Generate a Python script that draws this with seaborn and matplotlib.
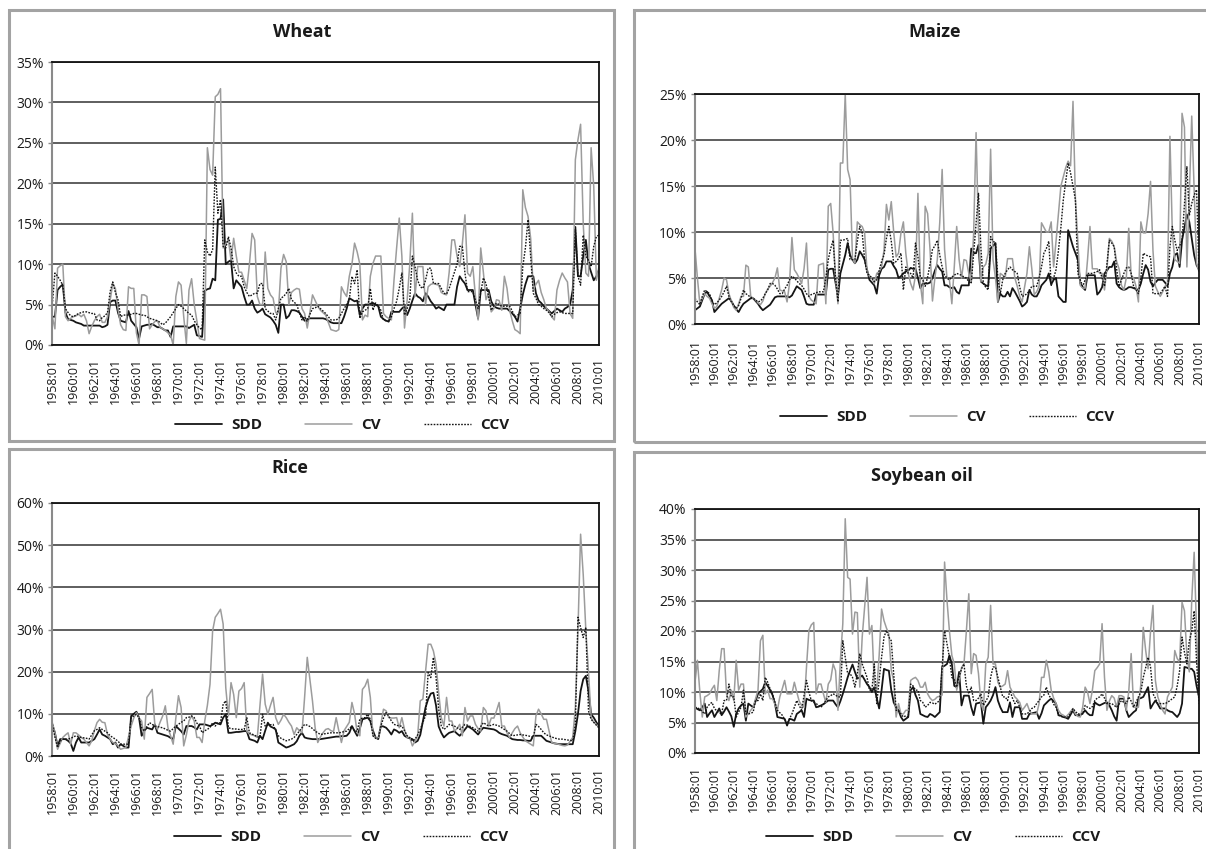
import numpy as np
import matplotlib
matplotlib.use("Agg")
import matplotlib.pyplot as plt
from matplotlib.patches import Rectangle
from matplotlib.ticker import PercentFormatter, MultipleLocator
import seaborn as sns

sns.set_theme(style="white")
plt.rcParams["font.family"] = ["Open Sans", "DejaVu Sans"]

W, H = 1206, 849

# quarterly observations 1958:01 .. 2010:01, ticks every two years
TICK_LABELS = [f"{y}:01" for y in range(1958, 2011, 2)]
SERIES_NAMES = ["SDD", "CV", "CCV"]

# ---- Wheat (%)
WHEAT_SDD = [
    3.5, 3.5, 6.8, 7.2, 7.5, 4.0, 3.2, 3.1, 3.0, 2.8, 2.7, 2.6, 2.4, 2.4, 2.4, 2.4,
    2.4, 2.4, 2.4, 2.2, 2.3, 2.5, 5.3, 5.5, 5.5, 4.0, 3.0, 2.9, 2.8, 4.2, 3.0, 2.6,
    2.2, 0.8, 2.3, 2.4, 2.5, 2.5, 2.6, 2.4, 2.2, 2.2, 2.0, 1.8, 1.8, 1.0, 2.3, 2.3,
    2.3, 2.3, 2.3, 2.3, 2.1, 2.3, 2.5, 1.2, 1.1, 1.0, 6.7, 6.9, 7.0, 8.2, 8.0, 15.5,
    15.6, 18.0, 10.0, 10.3, 10.5, 7.0, 8.0, 7.6, 7.2, 6.0, 5.0, 5.0, 5.5, 4.5, 4.0, 4.2,
    4.5, 3.8, 3.6, 3.4, 3.0, 2.5, 1.5, 5.0, 5.0, 3.3, 3.6, 4.3, 4.3, 4.2, 4.0, 3.5,
    3.0, 3.2, 3.3, 3.3, 3.3, 3.3, 3.3, 3.3, 3.2, 3.0, 2.8, 2.7, 2.7, 2.7, 2.7, 3.5,
    4.5, 5.8, 5.6, 5.4, 5.5, 3.7, 4.5, 5.0, 5.0, 5.1, 5.2, 5.0, 4.8, 3.5, 3.2, 3.0,
    2.9, 4.1, 4.1, 4.1, 4.1, 4.5, 4.8, 3.7, 4.5, 5.5, 6.4, 6.0, 5.8, 5.4, 6.4, 6.0,
    5.4, 5.0, 4.5, 4.7, 4.5, 4.3, 5.0, 5.0, 5.0, 5.0, 7.2, 8.5, 8.0, 7.6, 6.8, 6.8,
    6.8, 5.0, 3.3, 6.8, 6.8, 6.8, 6.8, 5.4, 4.8, 4.6, 4.5, 4.5, 4.5, 4.5, 4.2, 3.9,
    3.5, 2.9, 4.5, 6.2, 7.5, 8.5, 8.5, 8.5, 6.4, 5.5, 5.2, 4.8, 4.5, 4.2, 3.9, 4.2,
    4.5, 4.3, 4.1, 4.5, 4.7, 5.0, 6.8, 14.6, 8.5, 8.5, 11.0, 13.0, 10.0, 9.0, 8.0, 8.5,
    9.3,
]
WHEAT_CV = [
    3.5, 2.0, 9.5, 9.8, 10.0, 3.5, 3.0, 3.3, 3.5, 3.6, 3.8, 3.5, 3.8, 3.0, 1.4, 2.3,
    3.0, 3.5, 3.8, 2.8, 2.8, 3.5, 5.5, 7.6, 7.0, 4.5, 2.5, 1.9, 1.8, 7.2, 7.0, 7.0,
    1.5, 0.0, 6.2, 6.2, 6.0, 2.0, 2.5, 2.9, 3.0, 2.2, 2.0, 1.8, 1.5, 1.2, 0.0, 6.0,
    7.8, 7.4, 3.5, 0.2, 6.8, 8.2, 5.0, 3.0, 0.8, 0.7, 0.6, 24.4, 21.7, 21.0, 30.7, 31.0,
    31.7, 12.0, 12.5, 13.0, 10.5, 13.2, 11.0, 9.0, 9.0, 8.0, 7.0, 10.0, 13.8, 13.0, 6.0, 5.0,
    5.0, 11.5, 7.0, 6.2, 5.8, 4.0, 4.0, 9.5, 11.2, 10.3, 5.0, 6.5, 6.8, 7.0, 6.9, 4.5,
    3.9, 2.1, 4.0, 6.2, 5.5, 4.8, 4.3, 4.0, 3.7, 2.8, 1.9, 1.8, 1.7, 1.9, 7.2, 6.5,
    6.0, 8.5, 10.0, 12.6, 11.5, 10.0, 3.1, 3.7, 3.5, 8.5, 10.1, 11.0, 11.0, 11.0, 3.9, 3.5,
    3.3, 3.1, 8.0, 12.0, 15.7, 11.0, 2.1, 5.5, 10.0, 16.3, 6.0, 9.7, 9.7, 9.7, 5.0, 7.2,
    7.5, 7.6, 7.5, 7.4, 6.5, 6.3, 6.2, 9.0, 13.0, 13.0, 11.0, 9.7, 12.5, 16.1, 8.9, 8.5,
    9.7, 6.0, 3.1, 12.0, 9.0, 5.6, 6.4, 4.1, 4.5, 5.6, 5.5, 4.3, 8.5, 7.0, 4.3, 3.0,
    1.9, 1.7, 1.4, 19.2, 17.0, 15.9, 13.2, 6.8, 7.5, 8.0, 6.5, 5.6, 4.5, 4.1, 3.5, 3.1,
    6.8, 8.0, 8.9, 8.3, 7.8, 3.9, 3.3, 22.9, 25.4, 27.3, 15.0, 8.9, 8.5, 24.4, 19.6, 8.0,
    9.7,
]
WHEAT_CCV = [
    5.0, 8.9, 8.5, 8.0, 7.4, 4.5, 4.0, 3.6, 3.5, 3.7, 3.9, 4.0, 4.1, 4.1, 4.0, 3.9,
    3.9, 3.1, 3.0, 3.4, 3.6, 4.0, 6.6, 7.8, 6.5, 5.6, 3.5, 3.7, 3.7, 3.7, 3.8, 3.9,
    3.9, 3.8, 3.7, 3.7, 3.5, 3.3, 3.2, 3.1, 3.0, 2.8, 2.5, 2.7, 3.1, 3.5, 4.0, 4.5,
    5.0, 4.8, 4.5, 4.2, 3.9, 3.7, 3.0, 2.5, 2.1, 1.9, 13.0, 11.5, 11.0, 11.8, 22.0, 16.3,
    18.0, 12.2, 12.0, 13.4, 12.0, 9.7, 8.9, 8.5, 8.5, 7.2, 6.5, 6.0, 6.2, 6.4, 6.4, 7.6,
    7.6, 4.5, 4.2, 3.9, 3.9, 3.1, 4.5, 5.8, 6.0, 6.4, 7.0, 5.6, 5.3, 5.0, 4.0, 3.1,
    3.5, 2.9, 3.8, 4.5, 4.6, 4.8, 4.5, 4.2, 3.9, 3.5, 3.1, 3.1, 3.1, 3.3, 3.9, 4.5,
    5.0, 5.6, 8.5, 7.6, 9.3, 3.3, 4.1, 4.3, 4.5, 7.0, 4.3, 5.2, 4.8, 4.3, 3.1, 3.0,
    2.9, 3.5, 4.5, 5.4, 7.0, 8.9, 3.7, 4.5, 5.6, 11.0, 9.7, 8.0, 7.2, 7.0, 8.0, 9.5,
    9.5, 7.6, 7.6, 7.6, 7.0, 6.4, 6.3, 7.0, 8.0, 9.0, 10.0, 12.2, 12.2, 8.9, 6.6, 6.6,
    6.6, 5.5, 4.5, 6.5, 8.3, 7.6, 6.0, 4.3, 4.8, 5.2, 5.0, 4.8, 4.8, 4.8, 4.8, 4.2,
    3.5, 3.7, 3.9, 9.7, 12.0, 15.5, 11.0, 6.4, 5.8, 5.0, 4.8, 4.5, 4.3, 4.0, 3.5, 3.8,
    4.0, 4.1, 4.0, 3.9, 3.9, 3.9, 3.9, 14.3, 8.5, 7.4, 13.6, 11.0, 10.5, 9.7, 12.2, 13.4,
    13.6,
]

# ---- Maize (%)
MAIZE_SDD = [
    1.5, 1.7, 1.9, 2.6, 3.3, 3.5, 3.0, 2.6, 1.3, 1.6, 1.9, 2.2, 2.4, 2.6, 2.8, 2.5,
    2.0, 1.6, 1.3, 1.8, 2.2, 2.4, 2.6, 2.8, 2.8, 2.5, 2.2, 1.8, 1.5, 1.7, 1.9, 2.1,
    2.5, 2.9, 3.0, 3.0, 3.0, 3.0, 3.0, 2.9, 3.1, 3.6, 4.1, 3.9, 3.7, 3.0, 2.2, 2.1,
    2.1, 2.1, 3.2, 3.2, 3.2, 3.2, 3.2, 5.9, 6.0, 6.0, 4.5, 3.0, 5.5, 6.5, 7.5, 8.8,
    7.5, 7.0, 6.6, 7.0, 7.9, 7.5, 7.0, 5.9, 4.8, 4.5, 4.2, 3.3, 5.3, 6.0, 6.2, 6.8,
    6.8, 6.8, 6.3, 5.9, 5.0, 5.2, 5.5, 5.7, 5.8, 6.1, 6.0, 6.0, 5.0, 3.9, 4.4, 4.4,
    4.4, 4.5, 5.0, 5.8, 6.4, 6.0, 5.7, 4.2, 4.2, 4.0, 3.9, 4.0, 3.5, 3.3, 4.2, 4.2,
    4.2, 4.2, 8.2, 7.7, 7.7, 8.6, 4.6, 4.4, 4.2, 4.1, 8.2, 8.5, 8.8, 2.4, 3.3, 3.0,
    3.0, 3.5, 3.0, 3.9, 3.5, 3.0, 2.5, 1.9, 2.1, 2.4, 3.7, 3.2, 3.0, 3.0, 3.5, 4.2,
    4.5, 4.8, 5.5, 4.3, 4.8, 5.0, 3.0, 2.7, 2.4, 2.4, 10.2, 9.3, 8.4, 7.7, 7.0, 4.4,
    4.0, 3.7, 5.3, 5.3, 5.3, 5.3, 3.2, 3.5, 4.0, 5.5, 5.8, 6.2, 6.2, 6.8, 4.4, 4.0,
    3.8, 3.7, 3.8, 4.0, 4.0, 3.9, 3.8, 3.7, 4.4, 5.5, 6.4, 5.9, 4.6, 4.1, 4.5, 4.8,
    4.8, 4.8, 4.5, 4.1, 5.5, 6.2, 7.5, 7.7, 6.2, 9.1, 10.5, 11.9, 11.1, 9.3, 7.5, 6.4,
    5.9,
]
MAIZE_CV = [
    8.2, 5.0, 2.2, 2.8, 3.3, 3.0, 2.8, 2.2, 1.7, 1.9, 2.8, 3.7, 5.0, 4.8, 3.3, 2.5,
    1.8, 1.5, 2.2, 3.0, 3.0, 6.4, 6.2, 3.0, 2.8, 2.6, 2.3, 2.1, 2.5, 3.3, 3.8, 4.1,
    4.5, 5.0, 6.1, 3.7, 3.6, 3.5, 2.4, 4.4, 9.4, 5.9, 5.5, 5.0, 4.4, 6.0, 8.8, 3.0,
    2.6, 2.4, 2.2, 6.4, 6.5, 6.6, 2.2, 12.8, 13.1, 9.9, 5.0, 2.2, 17.5, 17.5, 25.0, 16.8,
    15.7, 7.1, 6.6, 11.1, 10.8, 10.6, 9.9, 5.7, 5.2, 5.0, 4.4, 5.5, 5.7, 6.2, 8.0, 13.0,
    11.3, 13.3, 10.0, 7.3, 7.7, 9.9, 11.1, 7.7, 5.5, 4.4, 3.7, 5.3, 14.2, 4.4, 2.2, 12.8,
    12.0, 8.1, 2.5, 5.0, 7.0, 11.0, 16.8, 8.1, 5.0, 4.8, 2.2, 6.2, 10.6, 7.0, 5.0, 7.0,
    6.9, 5.5, 4.6, 9.9, 20.8, 9.9, 4.6, 6.2, 6.5, 7.7, 19.0, 7.0, 5.0, 2.4, 5.5, 5.3,
    5.0, 7.1, 7.1, 7.1, 5.0, 4.1, 3.0, 2.4, 4.0, 5.5, 8.4, 6.0, 3.2, 3.5, 4.1, 11.0,
    10.5, 10.0, 10.0, 11.1, 6.2, 9.0, 12.0, 15.0, 16.0, 17.0, 17.7, 17.2, 24.2, 13.5, 9.0, 4.2,
    3.9, 3.9, 7.0, 10.6, 6.0, 6.0, 6.0, 5.5, 5.5, 3.7, 6.0, 9.3, 9.0, 8.4, 6.8, 6.0,
    4.2, 3.7, 5.0, 10.4, 5.3, 5.0, 4.1, 2.4, 11.1, 9.9, 9.9, 12.0, 15.5, 8.0, 4.1, 3.5,
    3.0, 3.5, 4.1, 4.5, 20.4, 9.9, 7.0, 6.8, 6.6, 22.9, 21.4, 6.2, 14.0, 22.6, 14.6, 6.6,
    5.7,
]
MAIZE_CCV = [
    2.8, 2.4, 2.1, 3.0, 3.7, 3.5, 3.3, 2.5, 2.1, 2.3, 2.6, 3.0, 3.5, 4.1, 3.0, 2.4,
    2.0, 1.7, 2.0, 2.8, 3.7, 3.3, 3.1, 2.9, 2.8, 2.6, 2.4, 2.5, 2.8, 3.3, 3.7, 4.4,
    4.4, 4.2, 3.8, 3.3, 3.3, 3.8, 4.2, 4.8, 5.2, 5.0, 4.7, 4.4, 4.2, 3.8, 3.3, 3.0,
    3.2, 3.3, 3.4, 3.5, 3.5, 3.5, 5.0, 7.0, 8.2, 9.1, 5.0, 2.4, 9.1, 9.1, 9.2, 9.3,
    7.0, 7.0, 7.0, 9.0, 10.6, 9.9, 7.0, 5.5, 5.3, 5.0, 4.6, 4.8, 5.8, 6.8, 7.5, 9.3,
    10.6, 9.0, 6.6, 6.8, 7.1, 7.7, 3.7, 6.2, 5.5, 5.5, 5.0, 8.8, 7.3, 5.1, 4.8, 4.1,
    5.1, 6.5, 8.1, 8.5, 9.1, 7.5, 6.2, 5.3, 5.0, 4.8, 5.1, 5.3, 5.5, 5.4, 5.3, 5.1,
    5.0, 4.6, 4.4, 7.7, 11.0, 14.2, 8.2, 4.4, 4.0, 3.7, 9.5, 9.0, 8.8, 5.0, 3.3, 4.8,
    5.5, 5.9, 6.2, 5.9, 5.7, 5.5, 4.0, 3.0, 3.1, 3.3, 3.6, 4.1, 4.1, 4.1, 5.0, 6.2,
    7.7, 8.2, 9.0, 4.2, 5.0, 5.9, 8.0, 10.5, 13.5, 15.5, 17.5, 16.4, 15.0, 13.5, 5.5, 4.8,
    4.1, 4.8, 5.5, 5.5, 5.5, 5.6, 5.7, 5.9, 5.0, 4.1, 6.5, 9.1, 8.8, 8.4, 6.0, 4.1,
    4.8, 5.5, 6.1, 6.2, 5.5, 4.1, 3.7, 3.3, 5.0, 7.7, 7.5, 7.4, 7.3, 3.3, 3.3, 3.3,
    3.3, 3.7, 4.1, 3.0, 8.4, 10.6, 9.1, 8.0, 8.5, 9.1, 13.0, 17.1, 11.8, 13.1, 14.0, 14.6,
    5.7,
]

# ---- Rice (%)
RICE_SDD = [
    7.5, 5.5, 2.4, 4.0, 4.0, 4.0, 3.6, 3.0, 1.2, 3.2, 4.4, 3.2, 3.2, 3.2, 3.2, 3.6,
    4.0, 5.1, 6.3, 5.1, 4.8, 4.4, 4.0, 2.8, 3.2, 2.0, 2.8, 2.4, 2.0, 2.0, 9.5, 10.0,
    10.5, 9.1, 4.8, 6.0, 6.7, 6.5, 6.3, 7.5, 5.5, 5.3, 5.1, 4.9, 4.7, 4.3, 4.0, 7.1,
    6.5, 5.9, 5.1, 7.1, 7.1, 7.1, 6.8, 6.3, 7.5, 7.5, 7.5, 7.3, 7.1, 7.4, 7.9, 7.7,
    7.5, 9.1, 9.9, 5.5, 5.5, 5.6, 5.7, 5.7, 5.8, 5.9, 5.9, 4.0, 3.8, 3.6, 3.2, 4.8,
    4.0, 6.0, 7.9, 7.0, 6.7, 6.3, 3.2, 2.8, 2.4, 2.0, 2.2, 2.5, 2.8, 3.5, 4.8, 5.5,
    4.4, 4.2, 4.1, 4.0, 4.0, 4.0, 4.0, 4.1, 4.2, 4.3, 4.4, 4.5, 4.6, 4.6, 4.7, 4.7,
    4.8, 5.5, 7.1, 5.9, 4.8, 6.5, 8.7, 8.9, 9.1, 8.3, 6.0, 4.4, 4.0, 7.1, 7.0, 6.7,
    6.0, 5.1, 6.3, 6.0, 5.5, 5.9, 4.8, 4.4, 4.2, 4.0, 3.2, 3.6, 5.0, 8.3, 11.5, 13.5,
    14.8, 15.0, 12.0, 7.0, 5.5, 4.4, 5.0, 5.5, 5.7, 5.9, 5.3, 4.8, 5.5, 6.3, 7.1, 6.7,
    6.3, 5.7, 5.1, 6.0, 6.7, 6.6, 6.5, 6.4, 6.3, 6.0, 5.5, 5.2, 5.0, 4.8, 4.4, 4.0,
    3.9, 3.8, 3.8, 3.7, 3.7, 3.6, 3.6, 4.8, 4.8, 4.8, 4.8, 4.2, 3.6, 3.4, 3.2, 3.0,
    2.9, 2.8, 2.8, 2.8, 2.8, 2.8, 2.8, 5.9, 10.0, 15.4, 18.2, 19.0, 15.4, 9.9, 9.1, 8.0,
    7.1,
]
RICE_CV = [
    7.9, 5.5, 1.6, 3.0, 4.4, 5.0, 5.5, 2.8, 5.5, 5.5, 5.0, 4.4, 4.0, 3.2, 2.4, 3.6,
    6.0, 7.9, 8.7, 8.0, 7.9, 5.1, 4.0, 3.2, 3.0, 2.4, 1.6, 1.8, 2.0, 4.5, 7.1, 9.0,
    10.3, 9.0, 8.3, 4.0, 13.9, 14.8, 15.8, 7.5, 6.3, 8.0, 9.5, 11.9, 6.7, 4.8, 2.8, 9.0,
    14.3, 11.5, 2.4, 5.0, 8.3, 9.5, 8.3, 4.4, 4.4, 3.2, 8.3, 12.0, 17.0, 29.7, 32.9, 33.8,
    34.8, 31.3, 16.2, 9.5, 17.4, 14.6, 9.1, 15.4, 16.0, 17.4, 5.9, 5.2, 5.0, 4.8, 4.4, 12.0,
    19.4, 12.3, 9.9, 12.0, 13.9, 9.1, 7.5, 8.5, 9.9, 9.1, 8.0, 7.1, 5.1, 6.7, 6.0, 5.5,
    14.0, 23.4, 18.2, 13.0, 6.7, 3.2, 4.5, 5.5, 6.3, 6.5, 6.0, 5.8, 9.1, 6.0, 3.2, 6.0,
    7.0, 8.0, 12.7, 10.0, 5.5, 4.8, 15.8, 16.6, 18.2, 13.9, 4.8, 4.4, 4.0, 7.5, 11.1, 10.7,
    9.1, 9.0, 9.0, 9.1, 6.7, 9.1, 6.3, 4.4, 4.4, 2.4, 3.5, 4.8, 13.1, 13.5, 20.0, 26.5,
    26.5, 24.9, 21.8, 15.0, 9.1, 7.1, 13.9, 8.3, 8.3, 5.9, 6.5, 7.5, 4.8, 11.5, 8.3, 9.5,
    9.5, 7.5, 6.5, 5.9, 11.5, 10.7, 7.1, 9.0, 9.0, 10.7, 12.7, 7.1, 7.1, 5.5, 4.4, 5.5,
    6.5, 7.1, 5.5, 4.5, 3.6, 3.2, 2.8, 2.4, 9.5, 11.1, 10.0, 8.7, 8.7, 6.0, 3.2, 3.0,
    2.9, 2.7, 2.5, 2.4, 2.6, 3.5, 4.4, 11.5, 30.0, 52.6, 43.0, 29.7, 20.0, 9.1, 8.0, 7.5,
    6.7,
]
RICE_CCV = [
    7.5, 4.5, 2.0, 3.5, 4.0, 4.0, 4.0, 4.2, 4.5, 4.8, 4.6, 4.4, 4.3, 4.2, 4.0, 5.0,
    6.0, 6.3, 6.7, 6.3, 5.9, 5.5, 4.8, 4.4, 4.0, 3.5, 2.8, 2.8, 2.8, 2.8, 9.1, 9.5,
    9.9, 9.1, 6.7, 5.9, 7.0, 7.9, 7.5, 7.1, 7.0, 6.8, 6.7, 6.4, 6.1, 5.9, 6.5, 7.1,
    7.5, 8.0, 8.3, 9.1, 9.2, 9.5, 9.1, 7.8, 7.1, 5.5, 6.0, 6.3, 6.8, 7.9, 7.1, 7.9,
    7.9, 12.3, 13.1, 6.7, 6.5, 6.4, 6.4, 6.3, 6.3, 6.3, 9.1, 5.5, 5.2, 4.9, 4.6, 4.4,
    9.9, 7.1, 7.3, 7.4, 7.5, 6.0, 4.8, 4.2, 3.9, 3.6, 3.8, 4.0, 4.4, 5.1, 5.9, 6.7,
    7.5, 7.3, 7.0, 6.5, 5.9, 5.5, 5.1, 5.2, 5.3, 5.4, 5.5, 5.5, 5.5, 5.5, 5.6, 5.8,
    5.9, 6.5, 7.1, 5.9, 5.9, 8.7, 9.0, 9.1, 9.9, 8.7, 4.8, 4.2, 4.0, 7.1, 9.0, 10.3,
    9.5, 8.3, 7.5, 7.3, 7.1, 7.1, 6.0, 4.8, 4.3, 3.6, 4.0, 5.0, 6.3, 8.0, 9.5, 19.8,
    18.6, 23.4, 18.6, 11.1, 7.1, 6.3, 6.8, 7.5, 7.3, 7.1, 6.7, 6.3, 6.8, 7.5, 7.3, 7.0,
    6.7, 6.3, 5.9, 7.0, 7.9, 7.5, 7.1, 7.3, 7.5, 7.3, 7.1, 6.7, 6.3, 5.9, 5.3, 4.8,
    4.9, 5.0, 5.1, 5.0, 4.9, 4.8, 4.6, 4.4, 7.5, 7.0, 6.3, 5.5, 5.0, 4.8, 4.5, 4.3,
    4.1, 4.0, 4.0, 3.9, 3.8, 3.7, 3.6, 7.5, 32.9, 30.5, 28.1, 30.5, 10.7, 8.7, 8.0, 7.3,
    6.7,
]

# ---- Soybean oil (%)
SOY_SDD = [
    7.5, 7.2, 7.0, 7.5, 8.1, 5.9, 6.5, 7.0, 5.9, 6.6, 7.3, 6.2, 6.8, 7.5, 6.8, 6.0,
    4.3, 6.4, 7.3, 7.8, 8.1, 5.3, 8.1, 7.8, 7.5, 8.5, 9.7, 10.1, 10.5, 11.6, 11.0, 10.3,
    9.5, 8.1, 5.9, 5.8, 5.7, 5.6, 4.5, 5.6, 5.5, 5.3, 6.4, 6.7, 7.0, 5.9, 8.9, 8.7,
    8.6, 8.6, 7.5, 7.6, 7.8, 8.0, 8.3, 8.6, 8.6, 8.6, 8.0, 7.5, 8.5, 9.7, 11.0, 12.4,
    13.5, 14.5, 13.3, 12.2, 12.4, 12.7, 12.0, 11.3, 10.8, 10.0, 10.8, 9.0, 7.3, 10.3, 13.8, 13.6,
    13.5, 10.3, 8.3, 7.5, 7.0, 5.9, 5.3, 5.6, 5.9, 10.3, 10.8, 9.5, 8.6, 6.4, 6.2, 6.0,
    5.9, 6.4, 6.2, 5.9, 6.3, 6.7, 14.1, 14.3, 14.6, 16.0, 14.6, 11.0, 10.8, 13.3, 7.8, 9.4,
    9.4, 9.4, 7.5, 6.2, 8.1, 8.2, 8.3, 4.8, 7.5, 8.0, 8.6, 9.5, 10.8, 8.6, 7.5, 6.7,
    6.7, 6.7, 8.3, 5.9, 7.5, 7.5, 7.5, 5.6, 5.6, 5.6, 6.4, 6.5, 6.6, 6.7, 5.6, 6.5,
    7.8, 8.2, 8.6, 8.9, 8.5, 8.1, 6.2, 6.1, 5.9, 5.8, 5.6, 6.3, 7.0, 6.2, 6.2, 6.2,
    6.5, 7.0, 6.5, 6.2, 6.2, 8.3, 8.0, 7.8, 8.0, 8.2, 8.3, 7.8, 7.0, 6.0, 5.3, 8.9,
    8.9, 8.9, 7.0, 5.9, 6.3, 6.7, 7.0, 8.9, 9.0, 9.2, 10.0, 10.8, 7.3, 8.0, 8.6, 8.0,
    7.3, 7.3, 7.3, 7.0, 6.8, 6.7, 6.3, 5.9, 6.5, 8.1, 14.1, 14.0, 13.8, 13.8, 13.3, 11.0,
    9.2,
]
SOY_CV = [
    11.6, 15.2, 10.0, 5.9, 9.2, 9.4, 9.7, 10.5, 11.1, 8.6, 13.5, 17.1, 17.1, 9.7, 8.6, 10.3,
    8.6, 15.2, 10.3, 11.3, 11.3, 5.9, 6.4, 7.0, 7.5, 8.9, 10.3, 18.4, 19.3, 9.7, 10.3, 8.9,
    8.9, 8.0, 7.0, 9.2, 10.5, 11.9, 9.7, 9.7, 9.7, 11.6, 10.0, 8.5, 7.8, 7.5, 14.0, 20.1,
    21.0, 21.4, 9.7, 11.3, 11.3, 9.7, 8.3, 11.3, 12.0, 14.6, 13.5, 7.0, 15.2, 21.2, 38.4, 28.8,
    28.5, 19.5, 23.1, 23.0, 10.8, 19.0, 24.0, 28.8, 19.5, 20.9, 11.3, 10.3, 16.0, 23.6, 21.7, 20.5,
    19.5, 13.5, 11.9, 5.9, 8.1, 6.4, 6.4, 7.0, 7.0, 11.9, 12.2, 12.4, 11.9, 10.8, 10.8, 11.6,
    9.7, 9.0, 8.6, 8.8, 9.2, 9.3, 9.5, 31.3, 25.0, 20.0, 16.0, 14.6, 10.3, 12.0, 14.0, 14.6,
    20.0, 26.1, 13.0, 16.3, 16.0, 13.0, 8.1, 7.0, 14.6, 15.7, 24.2, 14.6, 14.6, 11.6, 10.8, 11.0,
    11.3, 13.5, 10.8, 10.0, 9.2, 8.8, 8.3, 7.0, 7.5, 8.1, 7.0, 6.4, 6.4, 6.4, 8.1, 12.4,
    12.4, 15.2, 13.3, 10.3, 9.0, 8.1, 7.0, 6.4, 6.2, 5.9, 6.3, 6.8, 7.3, 6.4, 6.0, 5.9,
    7.5, 10.8, 10.0, 8.1, 10.3, 13.5, 14.0, 14.6, 21.2, 12.4, 7.0, 8.5, 9.4, 9.0, 7.5, 9.4,
    9.4, 9.2, 7.0, 10.0, 16.3, 7.5, 7.5, 7.5, 11.3, 20.6, 16.8, 13.8, 20.0, 24.2, 11.9, 9.2,
    8.0, 7.0, 6.4, 9.2, 10.0, 10.8, 16.8, 15.5, 14.9, 24.7, 23.3, 16.0, 13.3, 25.0, 32.9, 20.0,
    9.4,
]
SOY_CCV = [
    7.5, 7.4, 7.2, 6.8, 6.4, 7.5, 8.0, 8.3, 7.3, 6.9, 6.6, 6.4, 8.6, 8.6, 11.3, 9.2,
    9.2, 5.9, 6.7, 7.5, 10.3, 6.4, 6.4, 6.5, 6.7, 8.6, 8.6, 9.7, 8.6, 12.4, 11.6, 10.5,
    9.7, 8.3, 7.0, 6.6, 6.2, 5.5, 4.8, 5.6, 6.4, 7.5, 8.6, 7.8, 7.0, 9.5, 11.9, 10.0,
    8.6, 8.3, 8.1, 7.8, 7.5, 8.0, 8.6, 9.2, 9.4, 9.7, 9.5, 9.2, 9.2, 18.4, 15.7, 13.0,
    13.0, 12.4, 10.8, 13.0, 16.3, 14.6, 13.5, 12.4, 10.3, 10.3, 14.6, 8.1, 12.0, 15.7, 19.0, 20.1,
    19.0, 18.4, 13.0, 7.0, 7.0, 6.4, 5.9, 6.1, 5.9, 11.3, 11.0, 10.3, 10.3, 8.6, 8.3, 7.5,
    7.8, 8.3, 8.2, 8.0, 8.3, 8.6, 14.0, 20.0, 17.9, 15.7, 12.4, 12.0, 10.8, 12.5, 13.8, 14.6,
    11.0, 9.7, 10.8, 8.6, 8.6, 9.0, 9.7, 7.8, 8.5, 9.2, 12.4, 14.1, 14.1, 12.4, 10.8, 9.2,
    9.2, 8.6, 10.3, 9.0, 8.1, 8.6, 7.5, 6.4, 6.4, 6.4, 6.8, 7.3, 7.5, 8.1, 8.6, 9.2,
    9.5, 10.8, 9.5, 8.9, 8.0, 7.5, 6.2, 6.0, 5.9, 5.9, 5.9, 6.5, 7.3, 6.8, 6.4, 6.4,
    6.4, 7.8, 7.5, 7.3, 7.6, 8.6, 9.0, 9.2, 9.7, 9.0, 8.1, 8.1, 8.1, 7.8, 7.5, 8.0,
    8.6, 8.3, 8.1, 9.2, 8.5, 7.5, 8.3, 9.2, 10.0, 12.4, 14.0, 15.7, 14.1, 9.7, 9.0, 8.1,
    8.1, 8.1, 8.1, 8.3, 8.6, 8.9, 9.2, 11.0, 13.5, 19.0, 16.5, 14.6, 18.4, 20.0, 23.3, 15.0,
    8.1,
]

STYLES = {
    "SDD": dict(color="#151515", linewidth=1.3, linestyle="-"),
    "CV": dict(color="#9c9c9c", linewidth=1.1, linestyle="-"),
    "CCV": dict(color="#151515", linewidth=1.0, linestyle=(0, (1.2, 1.0))),
}
TEXT = "#1a1a1a"
BORDER = "#a3a3a3"


def fx(px):
    return px / W


def fy(py):
    return 1 - py / H


def draw_panel(fig, box, plot, title, title_xy, legend_xy, series, ymax, ystep, xpad):
    # outer grey frame of the chart object
    bx0, by0, bx1, by1 = box
    fig.add_artist(Rectangle((fx(bx0), fy(by1)), fx(bx1 - bx0), (by1 - by0) / H,
                             transform=fig.transFigure, fill=False,
                             edgecolor=BORDER, linewidth=2.2))

    px0, py0, px1, py1 = plot
    ax = fig.add_axes([fx(px0), fy(py1), fx(px1 - px0), (py1 - py0) / H])

    for name, values in zip(SERIES_NAMES, series):
        sns.lineplot(x=np.arange(len(values)), y=values, ax=ax, label=name,
                     **STYLES[name])

    ax.set_xlim(0, 208)
    ax.set_ylim(0, ymax)
    ax.yaxis.set_major_locator(MultipleLocator(ystep))
    ax.yaxis.set_major_formatter(PercentFormatter(xmax=100, decimals=0))
    ax.set_xticks(range(0, 209, 8))
    ax.set_xticklabels(TICK_LABELS, rotation=90, fontsize=9, color=TEXT)
    ax.tick_params(axis="x", length=0, pad=xpad)
    ax.tick_params(axis="y", length=3, width=1.0, color="#8a8a8a", pad=3,
                   labelsize=10, labelcolor=TEXT, left=True)
    ax.set_xlabel("")
    ax.set_ylabel("")

    ax.yaxis.grid(True, color="#333333", linewidth=1.1)
    ax.xaxis.grid(False)
    ax.set_axisbelow(True)
    for side in ["top", "right", "bottom"]:
        ax.spines[side].set_color("#111111")
        ax.spines[side].set_linewidth(1.3)
    ax.spines["left"].set_color("#8a8a8a")
    ax.spines["left"].set_linewidth(1.5)

    fig.text(fx(title_xy[0]), fy(title_xy[1]), title, ha="center", va="center",
             fontsize=13, fontweight="bold", color=TEXT)

    handles, labels = ax.get_legend_handles_labels()
    ax.legend(handles, labels, loc="center",
              bbox_to_anchor=(fx(legend_xy[0]), fy(legend_xy[1])),
              bbox_transform=fig.transFigure, ncol=3, frameon=False,
              handlelength=3.1, handletextpad=0.6, columnspacing=2.8,
              prop=dict(weight="bold", size=11), labelcolor=TEXT)
    return ax


fig = plt.figure(figsize=(W / 100, H / 100), dpi=100)
fig.patch.set_facecolor("white")

draw_panel(fig, (8.5, 10, 613.5, 441), (52.3, 62, 599, 345), "Wheat",
           (302, 32), (342, 425), [WHEAT_SDD, WHEAT_CV, WHEAT_CCV], 35, 5, 9)
draw_panel(fig, (633.5, 10, 1230, 442), (695, 94, 1199, 324), "Maize",
           (935, 32), (947, 417), [MAIZE_SDD, MAIZE_CV, MAIZE_CCV], 25, 5, 11)
draw_panel(fig, (8.5, 449, 613.5, 870), (52.3, 503, 599, 756), "Rice",
           (290, 468), (341, 837), [RICE_SDD, RICE_CV, RICE_CCV], 60, 10, 9)
draw_panel(fig, (633.5, 452, 1230, 870), (695, 509, 1199, 753), "Soybean oil",
           (922, 476), (933, 837), [SOY_SDD, SOY_CV, SOY_CCV], 40, 5, 9)

fig.savefig("out.png", dpi=100)
plt.close(fig)
